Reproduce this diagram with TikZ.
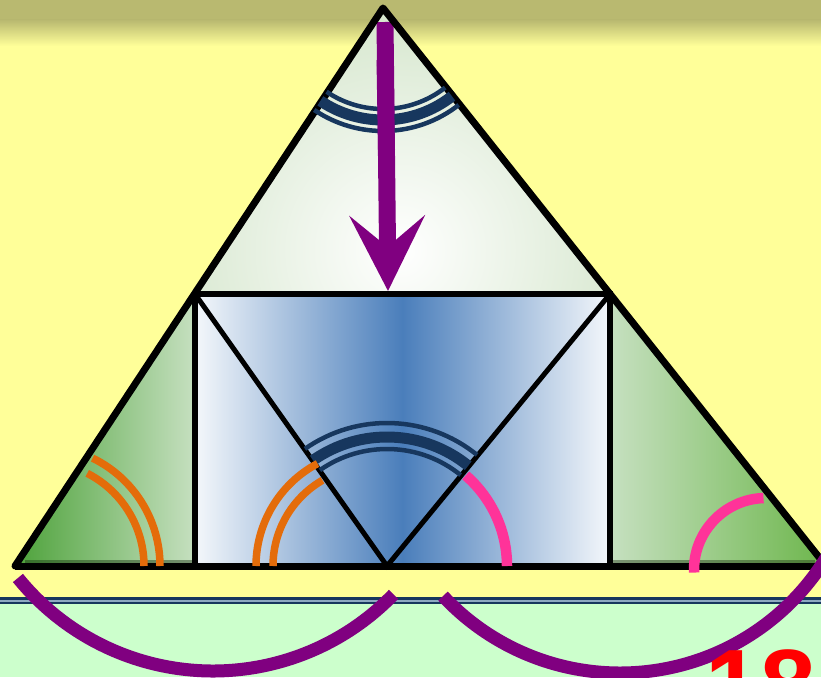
\documentclass[tikz,border=0pt]{standalone}
\usepackage{fontspec}
\setsansfont{Liberation Sans}
\usetikzlibrary{arrows.meta}
\definecolor{PaleYellow}{HTML}{FFFF99}
\definecolor{Olive}{HTML}{B9B970}
\definecolor{MintGreen}{HTML}{CCFFCC}
\definecolor{DarkNavy}{HTML}{17375E}
\definecolor{RuleBlue}{HTML}{8EA9C1}
\definecolor{Plum}{HTML}{800080}
\definecolor{DeepOrange}{HTML}{E46C0A}
\definecolor{HotPink}{HTML}{FF3399}
\definecolor{SteelBlue}{HTML}{4A7EBB}
\definecolor{LeafGreen}{HTML}{4DA23A}
\definecolor{GrassGreen}{HTML}{6DB64C}
\definecolor{PaleLeaf}{HTML}{C6E0C0}
\definecolor{FoldGreen}{HTML}{D3E5CA}

\begin{document}
\begin{tikzpicture}[x=1pt, y=-1pt,
  edge/.style={line width=7pt, line join=round, line cap=round},
  fold/.style={line width=5pt},
  thinarc/.style={DarkNavy, line width=4.5pt},
  thickarc/.style={DarkNavy, line width=11pt},
  orangearc/.style={DeepOrange, line width=7.5pt},
  pinkarc/.style={HotPink, line width=10.5pt},
  sweep/.style={Plum, line width=13pt}]

  \useasboundingbox (0,0) rectangle (821,677);
  \clip (0,0) rectangle (821,677);
  \fill[PaleYellow] (0,0) rectangle (821,677);
  \fill[Olive] (0,0) rectangle (821,20);
  \shade[top color=Olive, bottom color=PaleYellow] (0,20) rectangle (821,46);
  \fill[MintGreen] (0,600) rectangle (821,677);
  \fill[DarkNavy] (0,597) rectangle (821,604);
  \fill[RuleBlue] (0,599.5) rectangle (821,601.5);

  \coordinate (apex) at (383,8);
  \coordinate (left) at (15,566);
  \coordinate (right) at (826,566);
  \coordinate (tl) at (195,294);
  \coordinate (tr) at (610,294);
  \coordinate (bl) at (195,566);
  \coordinate (br) at (610,566);
  \coordinate (mid) at (387,566);

  \begin{scope}
    \clip (apex) -- (tl) -- (tr) -- cycle;
    \shade[inner color=white, outer color=FoldGreen] (400,250) circle (260);
  \end{scope}
  \shade[left color=LeafGreen, right color=PaleLeaf] (left) -- (tl) -- (bl) -- cycle;
  \shade[left color=PaleLeaf, right color=GrassGreen] (tr) -- (right) -- (br) -- cycle;
  \fill[black!70!LeafGreen, opacity=0.45] (25,560) rectangle (193,566);
  \fill[black!70!GrassGreen, opacity=0.45] (612,560) rectangle (815,566);
  \shade[left color=white!94!SteelBlue, right color=white!94!SteelBlue, middle color=SteelBlue] (tl) rectangle (br);

  \draw[line width=17pt, Plum, -{Stealth[length=75pt, width=75pt, inset=31pt]}] (385,22) -- (388,291);

  \draw[edge] (left) -- (apex) -- (right);
  \draw[line width=7pt] (left) -- (right);
  \draw[line width=6pt] (tl) rectangle (br);
  \draw[fold] (tl) -- (mid) -- (tr);

  \draw[thinarc] (apex) ++(52:101) arc[start angle=52, end angle=124, radius=101];
  \draw[thickarc] (apex) ++(52:112) arc[start angle=52, end angle=124, radius=112];
  \draw[thinarc] (apex) ++(52:123) arc[start angle=52, end angle=124, radius=123];
  \draw[line width=17pt, Plum] (385,60) -- (386.5,150);

  \draw[thinarc] (mid) ++(235:143) arc[start angle=235, end angle=309, radius=143];
  \draw[thickarc] (mid) ++(235:129) arc[start angle=235, end angle=309, radius=129];
  \draw[thinarc] (mid) ++(235:117) arc[start angle=235, end angle=309, radius=117];

  \coordinate (lefthub) at (40,566);
  \coordinate (midhub) at (372,566);
  \draw[orangearc] (lefthub) ++(296:120) arc[start angle=296, end angle=360, radius=120];
  \draw[orangearc] (lefthub) ++(297:104) arc[start angle=297, end angle=360, radius=104];
  \draw[orangearc] (midhub) ++(242:116) arc[start angle=242, end angle=180, radius=116];
  \draw[orangearc] (midhub) ++(240:99) arc[start angle=240, end angle=180, radius=99];

  \coordinate (righthub) at (766,570);
  \draw[pinkarc] (mid) ++(311:120) arc[start angle=311, end angle=360, radius=120];
  \draw[pinkarc] (righthub) ++(178:72) arc[start angle=178, end angle=268, radius=72];

  \coordinate (lowleft) at (213,420);
  \coordinate (lowright) at (620,431);
  \draw[sweep] (lowleft) ++(141:251) arc[start angle=141, end angle=44, radius=251];
  \draw[sweep] (lowright) ++(137:242) arc[start angle=137, end angle=30, radius=242];

  \node[anchor=base west, inner sep=0pt, text=red, font=\sffamily\bfseries\fontsize{100}{100}\selectfont] (pagenum) at (705,719) {18};
\end{tikzpicture}
\end{document}
